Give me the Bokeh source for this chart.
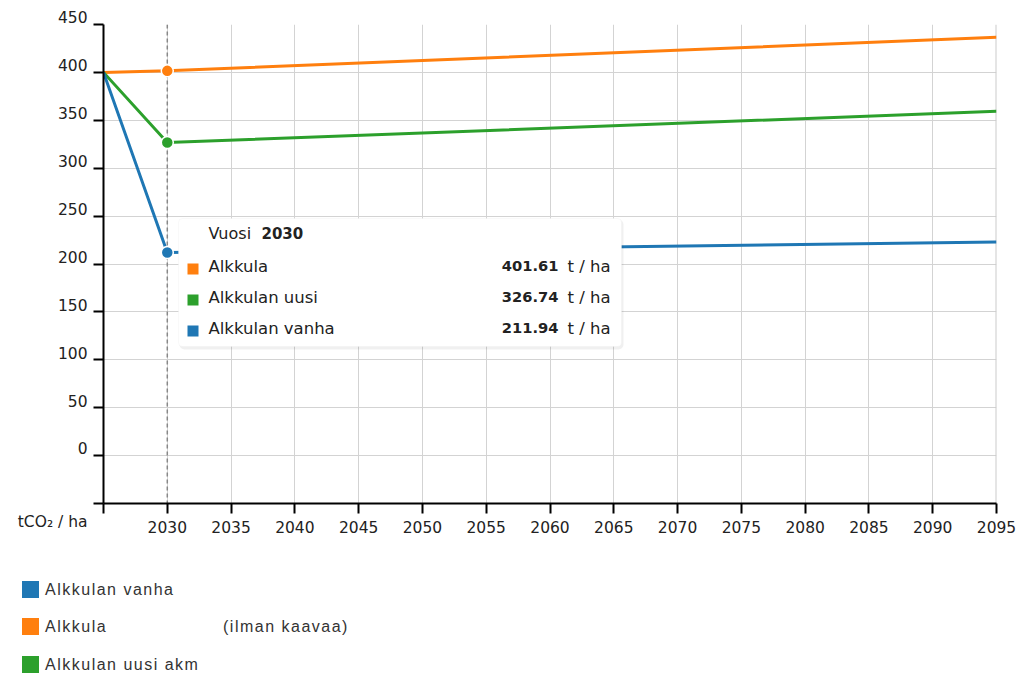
from bokeh.plotting import figure
from bokeh.layouts import column
from bokeh.models import Range1d, FixedTicker, Span, Label, BoxAnnotation, Div
from bokeh.embed import file_html
from bokeh.resources import INLINE

# ---------------- data ----------------
years = [2025, 2030, 2095]
alkkula = [400.0, 401.61, 436.7]
alkkulan_uusi = [400.0, 326.74, 359.4]
alkkulan_vanha = [400.0, 211.94, 223.0]

x_ticks = list(range(2025, 2096, 5))
y_ticks = list(range(-50, 451, 50))
hover_year = 2030

legend_names = ["Alkkulan vanha", "Alkkula", "Alkkulan uusi akm"]
legend_suffix = "(ilman kaavaa)"
tooltip_names = ["Alkkula", "Alkkulan uusi", "Alkkulan vanha"]
y_unit = "tCO\u2082 / ha"
value_unit = "t / ha"
tooltip_title = "Vuosi"

ORANGE, GREEN, BLUE = "#ff7f0e", "#2ca02c", "#1f77b4"
FONT = "DejaVu Sans"
TXT = "#222222"

# ---------------- main figure ----------------
W, H, HL = 1019, 545, 128
p = figure(width=W, height=H, output_backend="svg", toolbar_location=None,
           x_range=Range1d(years[0], x_ticks[-1]), y_range=Range1d(y_ticks[0], y_ticks[-1]),
           min_border_left=103, min_border_right=23, min_border_top=24,
           min_border_bottom=42, title=None)
p.outline_line_color = None
p.background_fill_color = "white"
p.border_fill_color = "white"

# axes
p.xaxis.ticker = FixedTicker(ticks=x_ticks)
p.xaxis.major_label_overrides = {x_ticks[0]: ""}
p.yaxis.ticker = FixedTicker(ticks=y_ticks)
# labels sit just above their tick; the unit is written under the axis corner
p.yaxis.major_label_overrides = {t: (f"{t}\n" if t != y_ticks[0] else "\n\n\n" + y_unit)
                                 for t in y_ticks}
for ax in (p.xaxis, p.yaxis):
    ax.axis_line_color = "black"
    ax.axis_line_width = 2
    ax.major_tick_line_color = "black"
    ax.major_tick_line_width = 2
    ax.major_tick_in = 0
    ax.major_tick_out = 10
    ax.minor_tick_line_color = None
    ax.major_label_text_font = FONT
    ax.major_label_text_color = TXT
p.xaxis.major_label_text_font_size = "15.5px"
p.xaxis.major_label_standoff = 7
p.yaxis.major_label_text_font_size = "15.5px"
p.yaxis.major_label_standoff = 6
p.yaxis.major_label_text_line_height = 0.68

p.xgrid.ticker = FixedTicker(ticks=x_ticks)
p.ygrid.ticker = FixedTicker(ticks=y_ticks)
for g in (p.xgrid, p.ygrid):
    g.grid_line_color = "#d3d3d3"
    g.grid_line_width = 1

p.add_layout(Span(location=x_ticks[-1], dimension="height", line_color="#cccccc",
                  line_width=2, level="underlay"))
p.add_layout(Span(location=hover_year, dimension="height", line_color="#888888",
                  line_width=1.5, line_dash="4 3", level="underlay"))

# lines + hover markers
hi = years.index(hover_year)
series = [(alkkula, ORANGE), (alkkulan_uusi, GREEN), (alkkulan_vanha, BLUE)]
for vals, col in series:
    p.line(years, vals, line_color=col, line_width=3)
for vals, col in series:
    p.scatter([years[hi]], [vals[hi]], size=12, fill_color=col, line_color="white",
              line_width=1.5)


def cbox(left, right, top, bottom, color, alpha=1.0, line=None, radius=0):
    p.add_layout(BoxAnnotation(left=left, right=right, top=top, bottom=bottom,
                               left_units="canvas", right_units="canvas",
                               top_units="canvas", bottom_units="canvas",
                               fill_color=color, fill_alpha=alpha, line_color=line,
                               line_width=1, border_radius=radius,
                               level="annotation"))


def clabel(x, y, text, size="16px", align="left", bold=False, color=TXT):
    p.add_layout(Label(x=x, y=y, x_units="canvas", y_units="canvas", text=text,
                       text_font=FONT, text_font_size=size, text_color=color,
                       text_align=align, text_baseline="alphabetic",
                       text_font_style="bold" if bold else "normal",
                       level="annotation"))


# ---------------- tooltip ----------------
cbox(179, 623, 219, 349, "black", alpha=0.06, radius=5)
cbox(178, 621, 218, 346, "white", line="#ebebeb", radius=4)

clabel(208, 232.5, tooltip_title, size="16px")
clabel(261, 232.5, str(hover_year), size="15px", bold=True)

tip_cols = [ORANGE, GREEN, BLUE]
tip_vals = [alkkula[hi], alkkulan_uusi[hi], alkkulan_vanha[hi]]
for k, (name, col, v) in enumerate(zip(tooltip_names, tip_cols, tip_vals)):
    top = 263 + 31 * k
    cbox(187, 198, top, top + 11, col)
    base = 265.7 + 31 * k
    clabel(208, base, name, size="16.5px")
    clabel(558, base, f"{v:.2f}", size="14.7px", align="right", bold=True)
    clabel(610, base, value_unit, size="16.5px", align="right")

# ---------------- legend strip under the chart (HTML) ----------------
leg_cols = [BLUE, ORANGE, GREEN]
row_tops = [36, 73, 111]
parts = []
for name, col, top in zip(legend_names, leg_cols, row_tops):
    parts.append(f'<div style="position:absolute;left:22px;top:{top}px;width:17px;'
                 f'height:17px;background:{col};"></div>')
    parts.append(f'<div style="position:absolute;left:45px;top:{top}px;'
                 f'line-height:17px;white-space:nowrap;">{name}</div>')
parts.append(f'<div style="position:absolute;left:223px;top:{row_tops[1]}px;'
             f'line-height:17px;white-space:nowrap;">{legend_suffix}</div>')
html = ('<div style="position:relative;width:1019px;height:128px;overflow:hidden;'
        'font-family:\'Liberation Sans\',Arial,sans-serif;font-size:16px;'
        'letter-spacing:1.5px;color:#333333;background:white;">'
        + "".join(parts) + '</div>')
legend_div = Div(text=html, width=W, height=HL, margin=0)

layout = column(p, legend_div, spacing=0)
open("out.html", "w").write(file_html(layout, INLINE))
